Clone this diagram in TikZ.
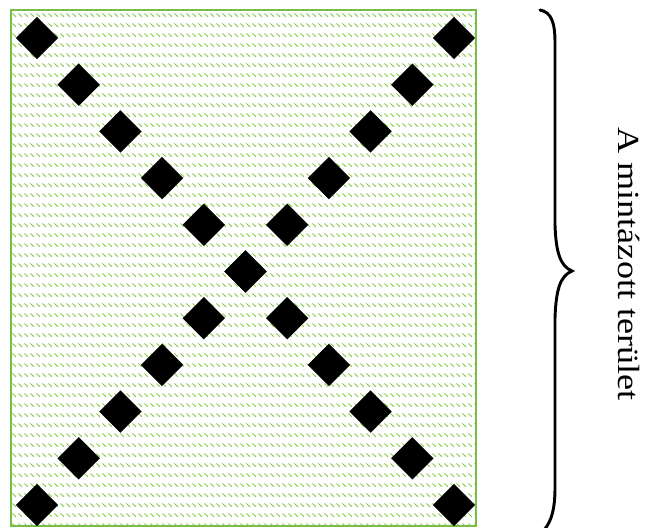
\documentclass[tikz,border=0pt]{standalone}
\usepackage{fontspec}
\setmainfont{Liberation Serif}
\usepackage{tikz}
\usetikzlibrary{patterns.meta}
\definecolor{PatGreen}{RGB}{140,204,76}
\definecolor{EdgeGreen}{RGB}{120,190,70}

\tikzdeclarepattern{
  name=dashrows,
  type=uncolored,
  bounding box={(0pt,0pt) and (4.5pt,7.2pt)},
  tile size={(4.5pt,7.2pt)},
  code={\draw[line width=0.8pt] (0.4pt,3.5pt) -- (3.4pt,1.0pt);}
}
\tikzset{
  gem/.style={fill=black, rectangle, rotate=45, minimum size=22.5pt, inner sep=0pt},
}

\begin{document}
\begin{tikzpicture}[x=0.75pt, y=-0.75pt]
      \useasboundingbox (0,0) rectangle (651,528);
      \fill[pattern=dashrows, pattern color=PatGreen] (11,10) rectangle (476,526);
      \draw[EdgeGreen, line width=0.9pt] (11,10) rectangle (476,526);
      \foreach \i in {0,...,10} {
        \node[gem] (l\i) at ({37+41.7*\i},{38+46.7*\i}) {};
        \node[gem] (r\i) at ({454-41.7*\i},{38+46.7*\i}) {};
      }
      \draw[line width=2.2pt, line cap=round] (540,10) .. controls (551,12) and (555,22) .. (555,42)
        -- (555,225) .. controls (556,252) and (560,266) .. (572,271)
        .. controls (560,276) and (556,290) .. (555,318)
        -- (555,488) .. controls (555,510) and (551,522) .. (544,530);
      \node[rotate=-90, xscale=1.18, font=\fontsize{23}{27}\selectfont] (label) at (629,264) {A mintázott terület};
    \end{tikzpicture}
\end{document}
